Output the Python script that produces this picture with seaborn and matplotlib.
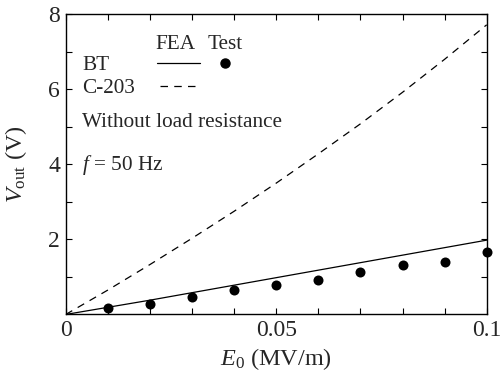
import numpy as np
import pandas as pd
import matplotlib
matplotlib.use("Agg")
import matplotlib.pyplot as plt
import seaborn as sns
from matplotlib.lines import Line2D

# Данные
e0 = [0.0, 0.01, 0.02, 0.03, 0.04, 0.05, 0.06, 0.07, 0.08, 0.09, 0.1]
fea_bt = [0.0, 0.19, 0.38, 0.58, 0.78, 0.98, 1.18, 1.38, 1.58, 1.78, 1.98]
fea_c203 = [0.0, 0.65, 1.33, 2.03, 2.75, 3.5, 4.28, 5.08, 5.92, 6.8, 7.72]

e0_test = [0.01, 0.02, 0.03, 0.04, 0.05, 0.06, 0.07, 0.08, 0.09, 0.1]
test_bt = [0.17, 0.29, 0.47, 0.65, 0.78, 0.91, 1.13, 1.32, 1.40, 1.66]

sns.set_style("ticks")
plt.rcParams["font.family"] = ["Liberation Serif", "DejaVu Serif"]
plt.rcParams["mathtext.fontset"] = "custom"
plt.rcParams["mathtext.rm"] = "Liberation Serif"
plt.rcParams["mathtext.it"] = "Liberation Serif:italic"

fig = plt.figure(figsize=(5.02, 3.73), dpi=100)
ax = fig.add_axes([0.131, 0.157, 0.8385, 0.8047])

df_lines = pd.DataFrame({"E0": e0, "BT": fea_bt, "C203": fea_c203})
df_test = pd.DataFrame({"E0": e0_test, "BT": test_bt})

sns.lineplot(data=df_lines, x="E0", y="BT", ax=ax, color="black", lw=0.9)
sns.lineplot(data=df_lines, x="E0", y="C203", ax=ax, color="black", lw=0.9,
             linestyle=(0, (6, 5)))
sns.scatterplot(data=df_test, x="E0", y="BT", ax=ax, color="black", s=52,
                edgecolor="black", linewidth=0, zorder=5, clip_on=False)

ax.set_xlim(0, 0.1)
ax.set_ylim(0, 8)
ax.set_xticks([0, 0.05, 0.1])
ax.set_xticklabels(["0", "0.05", "0.1"])
ax.set_xticks(np.arange(0.01, 0.1, 0.01), minor=True)
ax.set_yticks([2, 4, 6, 8])
ax.set_yticks([1, 3, 5, 7], minor=True)
ax.tick_params(which="both", direction="in", top=True, right=True,
               length=4.5, width=0.8, labelsize=17, color="black", pad=4)
for s in ax.spines.values():
    s.set_linewidth(1.0)
    s.set_color("black")

ax.set_xlabel(r"$E_0$ (MV/m)", fontsize=17.5, labelpad=4)
ax.set_ylabel(r"$V_{\rm out}$ (V)", fontsize=17.5, labelpad=14)

# Легенда и подписи
tr = ax.transAxes
fs = 15.3
ax.text(0.212, 0.898, "FEA", transform=tr, fontsize=fs, va="center")
ax.text(0.336, 0.898, "Test", transform=tr, fontsize=fs, va="center")
ax.text(0.039, 0.831, "BT", transform=tr, fontsize=fs, va="center")
ax.text(0.039, 0.754, "C-203", transform=tr, fontsize=fs, va="center")
ax.add_line(Line2D([0.217, 0.319], [0.838, 0.838], transform=tr,
                   color="black", lw=0.9))
ax.add_line(Line2D([0.224, 0.319], [0.761, 0.761], transform=tr,
                   color="black", lw=0.9, linestyle=(0, (6, 5))))
ax.add_line(Line2D([0.378], [0.838], transform=tr, marker="o",
                   color="black", markersize=6.5, linestyle="none"))
ax.text(0.039, 0.641, "Without load resistance", transform=tr,
        fontsize=fs, va="center")
ax.text(0.039, 0.498, r"$f$ = 50 Hz", transform=tr, fontsize=fs, va="center")

fig.savefig("out.png", dpi=100)
